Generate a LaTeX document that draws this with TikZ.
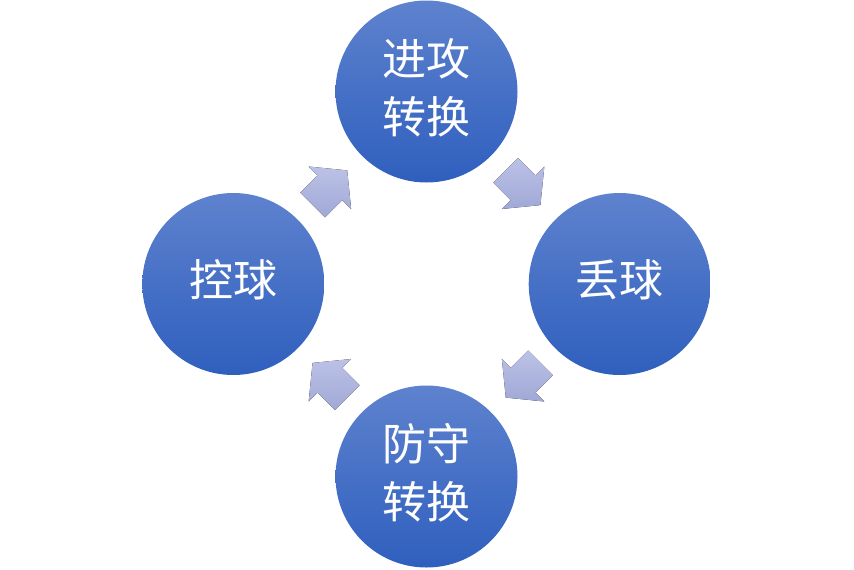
\documentclass[tikz,border=0pt]{standalone}
\usepackage{fontspec}
\newfontfamily\cjk{Noto Sans CJK SC}
\usetikzlibrary{calc}
\definecolor{circtop}{RGB}{94,130,206}
\definecolor{circbot}{RGB}{47,95,190}
\definecolor{arrtop}{RGB}{188,194,230}
\definecolor{arrbot}{RGB}{160,168,214}
\begin{document}
\begin{tikzpicture}[x=1pt,y=-1pt,
  phase/.style={circle, minimum size=182pt, inner sep=0pt, top color=circtop, bottom color=circbot},
  phasetext/.style={text=white, font=\cjk\fontsize{44}{58}\selectfont, align=center, inner sep=0pt},
  cyclearrow/.style={top color=arrtop, bottom color=arrbot, draw=none}]
\useasboundingbox (0,0) rectangle (854,570);
\node[phase] (ctop) at (426.5,91.5) {};
\node[phase] (cright) at (619.7,284) {};
\node[phase] (cbottom) at (426.5,476.5) {};
\node[phase] (cleft) at (233.3,284) {};
\node[phasetext] (ttop) at ([yshift=4pt]ctop.center) {进攻\\转换};
\node[phasetext] (tright) at ([yshift=4pt]cright.center) {丢球};
\node[phasetext] (tbottom) at ([yshift=4pt]cbottom.center) {防守\\转换};
\node[phasetext] (tleft) at ([yshift=4pt]cleft.center) {控球};
\def\arrowshape{(-24.5,-17.5) -- (0,-17.5) -- (0,-30) -- (24.5,0) -- (0,30) -- (0,17.5) -- (-24.5,17.5) -- cycle}
\fill[cyclearrow, shift={($(cleft)!0.5!(ctop)$)}, rotate=45] \arrowshape;
\fill[cyclearrow, shift={($(ctop)!0.5!(cright)$)}, rotate=-45] \arrowshape;
\fill[cyclearrow, shift={($(cright)!0.5!(cbottom)$)}, rotate=-135] \arrowshape;
\fill[cyclearrow, shift={($(cbottom)!0.5!(cleft)$)}, rotate=135] \arrowshape;
\end{tikzpicture}
\end{document}
